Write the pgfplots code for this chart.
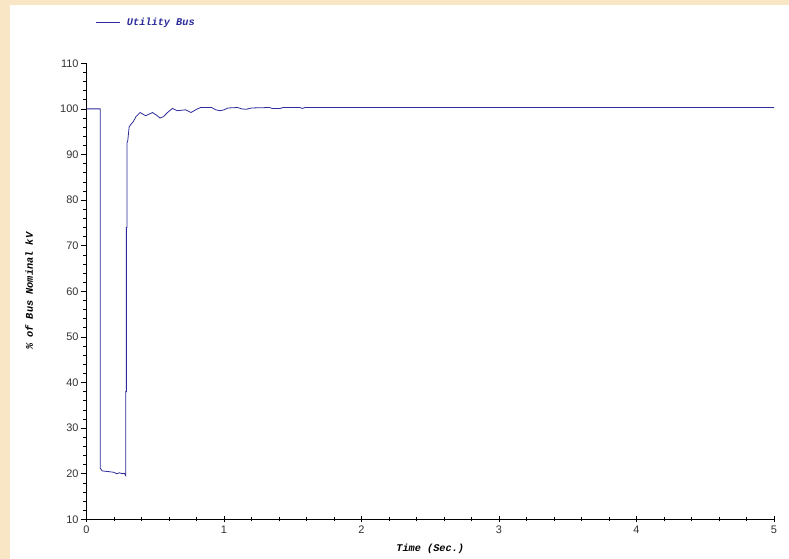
\documentclass[border=0pt]{standalone}
\usepackage{pgfplots}
\pgfplotsset{compat=1.18}
\usepackage{fontspec}
\setmainfont{Liberation Sans}
\setmonofont{Liberation Mono}
\definecolor{peach}{HTML}{F8E6C4}
\definecolor{navy}{HTML}{2C2C9C}
\begin{document}
\begin{tikzpicture}[x=1bp,y=1bp]
\fill[peach] (0,0) rectangle (789,559);
\fill[white] (10,0) rectangle (789,554);
\path[use as bounding box] (0,0) rectangle (789,559);
\begin{axis}[
  at={(86.5bp,39.7bp)}, anchor=south west,
  scale only axis, width=687.5bp, height=456bp,
  xmin=0, xmax=5, ymin=10, ymax=110,
  axis lines*=left,
  axis line style={black, line width=0.8pt},
  xtick={0,1,2,3,4,5}, ytick={10,20,...,110},
  minor x tick num=4, minor y tick num=4,
  x tick style={black, line width=0.6pt}, y tick style={black, line width=0.6pt},
  xtick align=center, ytick align=outside,
  major tick length=6bp, minor tick length=4bp,
  tick label style={font=\fontsize{11}{12}\selectfont, text=black!80},
  yticklabel style={xshift=1.5bp},
  /pgf/number format/assume math mode=true,
  xlabel={\ttfamily\itshape\bfseries Time (Sec.)},
  ylabel={\ttfamily\itshape\bfseries \% of Bus Nominal kV},
  label style={font=\fontsize{10.3}{11}\selectfont},
  xlabel style={at={(axis description cs:0.5,0)}, anchor=north, yshift=-21bp},
  ylabel style={at={(axis description cs:0,0.5)}, anchor=south, yshift=50bp},
  legend style={at={(axis description cs:0.008,1.09)}, anchor=west, draw=none, fill=none,
    font=\fontsize{10.3}{11}\selectfont\ttfamily\itshape\bfseries, text=navy,
    nodes={inner xsep=7bp}},
  legend image code/.code={\draw[#1] (0bp,0bp) -- (24bp,0bp);},
  clip=false,
]
\addplot[navy, line width=0.8pt] coordinates {
(0,100) (0.1,100) (0.1,21.2) (0.115,20.6) (0.15,20.5) (0.2,20.3) (0.22,20.0)
(0.24,20.2) (0.26,20.0) (0.275,20.1) (0.285,19.6) (0.285,38) (0.29,38) (0.29,74)
(0.295,74) (0.295,92.6) (0.30,93) (0.31,96) (0.32,96.5) (0.34,97.2) (0.36,98.3)
(0.39,99.2) (0.43,98.5) (0.48,99.2) (0.51,98.6) (0.535,98.0) (0.56,98.3)
(0.585,99.1) (0.625,100.1) (0.66,99.6) (0.72,99.8) (0.76,99.2) (0.8,99.9)
(0.83,100.3) (0.91,100.3) (0.94,99.8) (0.97,99.6) (1.0,99.8) (1.03,100.2)
(1.1,100.3) (1.13,100.0) (1.16,99.9) (1.2,100.2) (1.33,100.3) (1.35,100.1)
(1.41,100.1) (1.43,100.3) (1.55,100.3) (1.57,100.1) (1.59,100.3) (5,100.3)
};
\addlegendentry{Utility Bus}
\end{axis}
\end{tikzpicture}
\end{document}
